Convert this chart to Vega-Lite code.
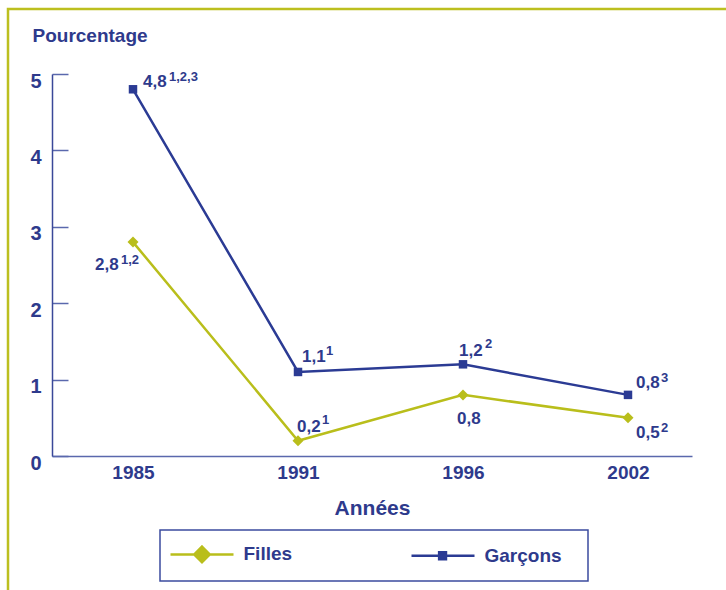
{
  "$schema": "https://vega.github.io/schema/vega-lite/v6.json",
  "width": 722,
  "height": 585,
  "autosize": {"type": "none"},
  "padding": {"left": 8, "top": 9, "right": -4, "bottom": -4},
  "background": "white",
  "config": {
    "view": {"stroke": "#bcbf1f", "strokeWidth": 2.5},
    "font": "Liberation Sans",
    "axis": {"grid": false},
    "text": {"font": "Liberation Sans", "fontWeight": "bold", "color": "#2e3a8c", "align": "left", "baseline": "alphabetic"}
  },
  "data": {
    "values": [
      {"annee": "1985", "serie": "Filles", "valeur": 2.8, "label": "2,8", "note": "1,2"},
      {"annee": "1991", "serie": "Filles", "valeur": 0.2, "label": "0,2", "note": "1"},
      {"annee": "1996", "serie": "Filles", "valeur": 0.8, "label": "0,8", "note": ""},
      {"annee": "2002", "serie": "Filles", "valeur": 0.5, "label": "0,5", "note": "2"},
      {"annee": "1985", "serie": "Garçons", "valeur": 4.8, "label": "4,8", "note": "1,2,3"},
      {"annee": "1991", "serie": "Garçons", "valeur": 1.1, "label": "1,1", "note": "1"},
      {"annee": "1996", "serie": "Garçons", "valeur": 1.2, "label": "1,2", "note": "2"},
      {"annee": "2002", "serie": "Garçons", "valeur": 0.8, "label": "0,8", "note": "3"}
    ]
  },
  "encoding": {
    "x": {
      "field": "annee", "type": "ordinal",
      "scale": {"type": "point", "range": [44, 684], "padding": 0.4394, "align": 0.5586},
      "axis": {
        "orient": "bottom", "offset": -138, "title": "Années",
        "titleFont": "Liberation Sans", "titleFontSize": 21, "titleFontWeight": "bold", "titleColor": "#2e3a8c",
        "titleY": 58, "titleBaseline": "alphabetic",
        "labelAngle": 0, "labelFont": "Liberation Sans", "labelFontSize": 19, "labelFontWeight": "bold", "labelColor": "#2e3a8c",
        "labelPadding": 7, "ticks": false, "domainColor": "#5a68ad", "domainWidth": 1.5
      }
    },
    "y": {
      "field": "valeur", "type": "quantitative",
      "scale": {"domain": [0, 5], "range": [447, 65], "nice": false},
      "axis": {
        "orient": "left", "offset": -44, "values": [0, 1, 2, 3, 4, 5],
        "tickSize": -16, "tickColor": "#5a68ad", "tickWidth": 1.5,
        "domainColor": "#3a4899", "domainWidth": 1.5,
        "labelFont": "Liberation Sans", "labelFontSize": 20, "labelFontWeight": "bold", "labelColor": "#2e3a8c",
        "labelPadding": 27, "labelOffset": 7,
        "title": "Pourcentage", "titleAngle": 0, "titleAlign": "left", "titleBaseline": "alphabetic",
        "titleX": -20, "titleY": 32,
        "titleFont": "Liberation Sans", "titleFontSize": 19, "titleFontWeight": "bold", "titleColor": "#2e3a8c"
      }
    }
  },
  "layer": [
    {
      "mark": {"type": "line", "strokeWidth": 2.5},
      "encoding": {
        "color": {
          "field": "serie", "type": "nominal",
          "scale": {"domain": ["Filles", "Garçons"], "range": ["#b9be1b", "#2b3b94"]},
          "legend": {
            "orient": "none", "legendX": 152, "legendY": 521, "direction": "horizontal",
            "title": " ", "titleOrient": "right", "titlePadding": 13, "titleFontSize": 2,
            "strokeColor": "#3b4b9e", "padding": 13.5, "columnPadding": 114,
            "symbolSize": 324, "labelOffset": 49,
            "labelFont": "Liberation Sans", "labelFontSize": 19, "labelFontWeight": "bold", "labelColor": "#2e3a8c",
            "symbolStrokeWidth": 2.5,
            "encode": {
              "symbols": {"update": {
                "shape": {"signal": "datum.value === 'Filles' ? 'M-1.5,0H5.5M2,-0.86L2.86,0L2,0.86L1.14,0Z' : 'M-1.5,0H5.5M1.57,-0.38H2.33V0.38H1.57Z'"},
                "fill": {"signal": "datum.value === 'Filles' ? '#b9be1b' : '#2b3b94'"},
                "stroke": {"signal": "datum.value === 'Filles' ? '#b9be1b' : '#2b3b94'"},
                "opacity": {"value": 1},
                "fillOpacity": {"value": 1},
                "strokeWidth": {"value": 2.5}
              }},
              "legend": {"update": {"strokeWidth": {"value": 1.5}}}
            }
          }
        }
      }
    },
    {
      "transform": [{"filter": "datum.serie == 'Filles'"}],
      "mark": {"type": "point", "shape": "diamond", "filled": true, "opacity": 1, "size": 121, "color": "#b9be1b"}
    },
    {
      "transform": [{"filter": "datum.serie == 'Garçons'"}],
      "mark": {"type": "point", "shape": "square", "filled": true, "opacity": 1, "size": 72, "color": "#2b3b94"}
    },
    {"transform": [{"filter": "datum.serie == 'Garçons' && datum.annee == '1985'"}], "mark": {"type": "text", "fontSize": 17, "dx": 10, "dy": -2}, "encoding": {"text": {"field": "label"}}},
    {"transform": [{"filter": "datum.serie == 'Garçons' && datum.annee == '1985'"}], "mark": {"type": "text", "fontSize": 13, "dx": 36, "dy": -8}, "encoding": {"text": {"field": "note"}}},
    {"transform": [{"filter": "datum.serie == 'Filles' && datum.annee == '1985'"}], "mark": {"type": "text", "fontSize": 17, "dx": -38, "dy": 28}, "encoding": {"text": {"field": "label"}}},
    {"transform": [{"filter": "datum.serie == 'Filles' && datum.annee == '1985'"}], "mark": {"type": "text", "fontSize": 13, "dx": -12, "dy": 22}, "encoding": {"text": {"field": "note"}}},
    {"transform": [{"filter": "datum.serie == 'Garçons' && datum.annee == '1991'"}], "mark": {"type": "text", "fontSize": 17, "dx": 4, "dy": -10}, "encoding": {"text": {"field": "label"}}},
    {"transform": [{"filter": "datum.serie == 'Garçons' && datum.annee == '1991'"}], "mark": {"type": "text", "fontSize": 13, "dx": 28, "dy": -17}, "encoding": {"text": {"field": "note"}}},
    {"transform": [{"filter": "datum.serie == 'Filles' && datum.annee == '1991'"}], "mark": {"type": "text", "fontSize": 17, "dx": -1, "dy": -9}, "encoding": {"text": {"field": "label"}}},
    {"transform": [{"filter": "datum.serie == 'Filles' && datum.annee == '1991'"}], "mark": {"type": "text", "fontSize": 13, "dx": 24, "dy": -17}, "encoding": {"text": {"field": "note"}}},
    {"transform": [{"filter": "datum.serie == 'Garçons' && datum.annee == '1996'"}], "mark": {"type": "text", "fontSize": 17, "dx": -4, "dy": -8}, "encoding": {"text": {"field": "label"}}},
    {"transform": [{"filter": "datum.serie == 'Garçons' && datum.annee == '1996'"}], "mark": {"type": "text", "fontSize": 13, "dx": 22, "dy": -16}, "encoding": {"text": {"field": "note"}}},
    {"transform": [{"filter": "datum.serie == 'Filles' && datum.annee == '1996'"}], "mark": {"type": "text", "fontSize": 17, "dx": -6, "dy": 29}, "encoding": {"text": {"field": "label"}}},
    {"transform": [{"filter": "datum.serie == 'Garçons' && datum.annee == '2002'"}], "mark": {"type": "text", "fontSize": 17, "dx": 8, "dy": -7}, "encoding": {"text": {"field": "label"}}},
    {"transform": [{"filter": "datum.serie == 'Garçons' && datum.annee == '2002'"}], "mark": {"type": "text", "fontSize": 13, "dx": 33, "dy": -13}, "encoding": {"text": {"field": "note"}}},
    {"transform": [{"filter": "datum.serie == 'Filles' && datum.annee == '2002'"}], "mark": {"type": "text", "fontSize": 17, "dx": 8, "dy": 20}, "encoding": {"text": {"field": "label"}}},
    {"transform": [{"filter": "datum.serie == 'Filles' && datum.annee == '2002'"}], "mark": {"type": "text", "fontSize": 13, "dx": 33, "dy": 14}, "encoding": {"text": {"field": "note"}}}
  ]
}
